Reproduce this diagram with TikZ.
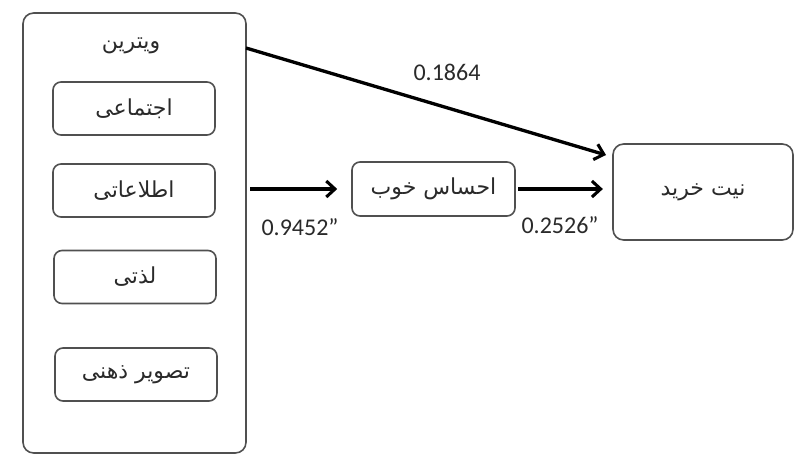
\documentclass[tikz,border=0pt]{standalone}
\usepackage{fontspec}
\setmainfont{Carlito}
\newfontfamily\arabicfont[Script=Arabic]{DejaVu Sans}
\TeXXeTstate=1
\usetikzlibrary{arrows.meta}
\definecolor{boxgray}{HTML}{505050}
\definecolor{txtgray}{HTML}{2A2A2A}
\tikzset{
  fa/.style={font=\arabicfont\fontsize{16.5}{19}\selectfont, text=txtgray},
  rbox/.style={draw=boxgray, line width=1.2pt, rounded corners=6pt, fill=white, align=center},
  inbox/.style={rbox, fa, minimum width=121.5pt, minimum height=39.75pt},
  arr/.style={line width=2.5pt, black, -{Straight Barb[length=6.5pt,width=12pt,line width=2.3pt]}},
  num/.style={font=\fontsize{18}{20}\selectfont, text=txtgray}
}
\begin{document}
\begin{tikzpicture}[x=0.75pt,y=-0.75pt]
\useasboundingbox[fill=white] (0,0) rectangle (795,461);
% outer container
\node[rbox, rounded corners=8pt, minimum width=167.25pt, minimum height=330pt] (outer) at (134.5,233) {};
\node[fa] (title) at (131,46) {\beginR ویترین\endR};
\node[inbox] (b1) at (134,108.5) {\beginR اجتماعی\endR};
\node[inbox] (b2) at (134,190.5) {\beginR اطلاعاتی\endR};
\node[inbox] (b3) at (135,277) {\beginR لذتی\endR};
\node[inbox] (b4) at (136,374.5) {\beginR تصویر ذهنی\endR};
% mediator and outcome
\node[rbox, fa, minimum width=122.25pt, minimum height=40.5pt] (mid) at (433.5,189) {\beginR احساس خوب\endR};
\node[rbox, fa, rounded corners=8pt, minimum width=135pt, minimum height=72pt] (nt) at (703,192) {\beginR نیت خرید\endR};
% connector end points
\coordinate (s1) at (246,48);
\coordinate (e1) at (606,155);
\coordinate (s2) at (250,189);
% connectors
\draw[arr] (s1) -- (e1);
\draw[arr, shorten >=10.5pt] (s2) -- (mid.west);
\draw[arr, shorten <=2pt, shorten >=7pt] (mid.east) -- (mid.east -| nt.west);
% labels
\node[num] (l1) at (447,72) {0.1864};
\node[num] (l2) at (300,227) {0.9452"};
\node[num] (l3) at (560,225) {0.2526"};
\end{tikzpicture}
\end{document}
